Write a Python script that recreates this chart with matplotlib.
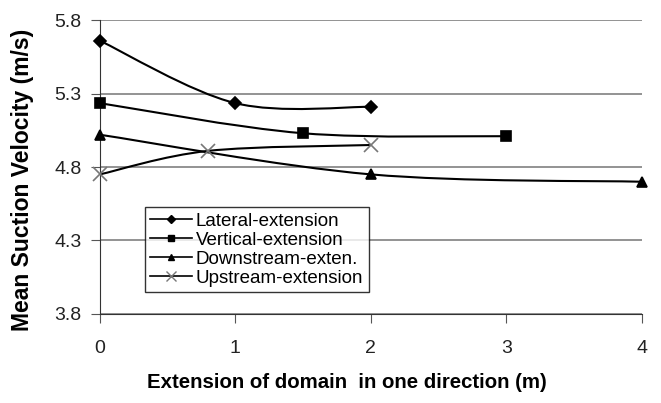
import numpy as np
import matplotlib
matplotlib.use("Agg")
import matplotlib.pyplot as plt
from matplotlib.path import Path
from matplotlib.patches import PathPatch

plt.rcParams['font.family'] = ['Liberation Sans', 'DejaVu Sans']

# data
lat_x = [0, 1, 2]
lat_y = [5.66, 5.235, 5.21]
vert_x = [0, 1.5, 3]
vert_y = [5.235, 5.03, 5.01]
down_x = [0, 2, 4]
down_y = [5.02, 4.75, 4.70]
up_x = [0, 0.8, 2]
up_y = [4.75, 4.91, 4.95]

series = [
    ("Lateral-extension", lat_x, lat_y, "D", 6, "black"),
    ("Vertical-extension", vert_x, vert_y, "s", 7, "black"),
    ("Downstream-exten.", down_x, down_y, "^", 7, "black"),
    ("Upstream-extension", up_x, up_y, "x", 10, "#777777"),
]


def smooth_path(xs, ys, t=1/6.):
    # excel style smoothed line: cubic bezier segments (catmull-rom control points)
    pts = np.column_stack([xs, ys]).astype(float)
    n = len(pts)
    verts = [pts[0]]
    codes = [Path.MOVETO]
    for i in range(n - 1):
        p0 = pts[i - 1] if i > 0 else pts[i]
        p1 = pts[i]
        p2 = pts[i + 1]
        p3 = pts[i + 2] if i + 2 < n else pts[i + 1]
        c1 = p1 + (p2 - p0) * t
        c2 = p2 - (p3 - p1) * t
        verts += [c1, c2, p2]
        codes += [Path.CURVE4] * 3
    return Path(verts, codes)


fig = plt.figure(figsize=(6.61, 4.03), dpi=100)
ax = fig.add_axes([0.151, 0.221, 0.820, 0.729])

for label, xs, ys, mk, ms, mc in series:
    ax.add_patch(PathPatch(smooth_path(xs, ys), facecolor="none",
                           edgecolor="black", lw=1.5, zorder=3))
    ax.plot(xs, ys, ls="none", marker=mk, ms=ms, color=mc, mew=1.2, zorder=4,
            clip_on=False)
    # proxy for legend
    ax.plot([], [], color="black", lw=1.2, marker=mk, ms=ms * 0.7,
            mfc=mc, mec=mc, label=label)

ax.set_xlim(0, 4)
ax.set_ylim(3.8, 5.8)
ax.set_xticks([0, 1, 2, 3, 4])
ax.set_yticks([3.8, 4.3, 4.8, 5.3, 5.8])
ax.set_yticklabels(["3.8", "4.3", "4.8", "5.3", "5.8"])
ax.yaxis.grid(True, color="#808080", lw=1.2)
ax.set_axisbelow(True)
for s in ["top", "right"]:
    ax.spines[s].set_visible(False)
ax.spines["left"].set_color("#333333")
ax.spines["bottom"].set_color("#333333")
ax.tick_params(axis="both", colors="#555555", labelcolor="#222222",
               labelsize=14, length=6.5)
ax.tick_params(axis="x", pad=12)
ax.tick_params(axis="y", pad=6.5)

ax.set_xlabel("Extension of domain  in one direction (m)", fontsize=14.7,
              fontweight="bold")
ax.set_ylabel("Mean Suction Velocity (m/s)", fontsize=16.5,
              fontweight="bold")
ax.xaxis.set_label_coords(347 / 661, 1 - 383 / 403, transform=fig.transFigure)
ax.xaxis.label.set_va("center")
ax.yaxis.set_label_coords(23 / 661, 1 - 180 / 403, transform=fig.transFigure)
ax.yaxis.label.set_va("center")

leg = ax.legend(loc="upper left", bbox_to_anchor=(0.083, 0.364), fontsize=13.5,
                frameon=True, fancybox=False, borderpad=0.3, labelspacing=0.1,
                handlelength=2.2, handletextpad=0.2, borderaxespad=0)
leg.get_frame().set_edgecolor("black")
leg.get_frame().set_linewidth(1.0)

fig.savefig("out.png", dpi=100)
